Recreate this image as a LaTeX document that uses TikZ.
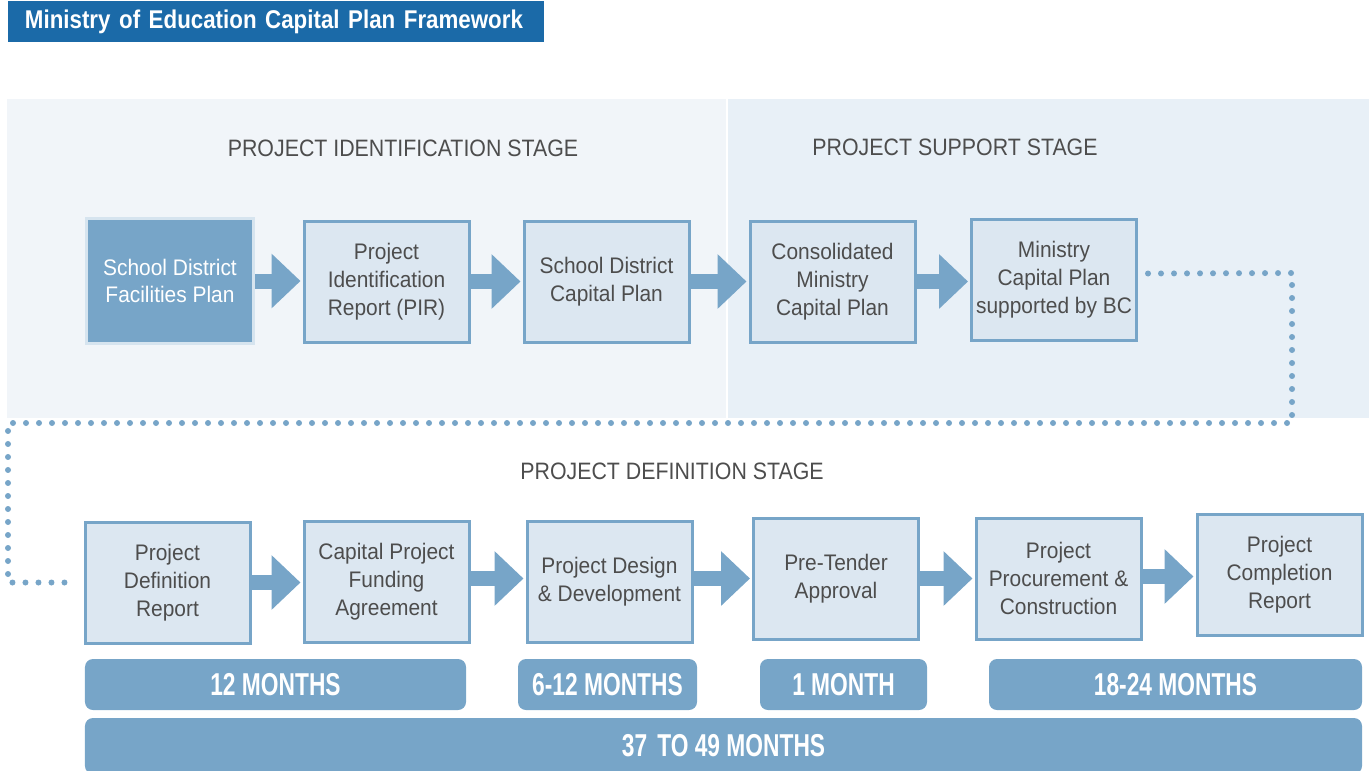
\documentclass[tikz,border=0pt]{standalone}
\usepackage{fontspec}
\setmainfont{Liberation Sans}[FakeStretch=0.93]
\newfontfamily\stagefont{Liberation Sans}[FakeStretch=0.9]
\newfontfamily\headfont{Liberation Sans}[FakeStretch=0.87]
\newfontfamily\barfont{Liberation Sans}[FakeStretch=0.72]
\usetikzlibrary{arrows.meta, positioning}
\definecolor{edublue}{HTML}{1B6AA8}
\definecolor{edusteel}{HTML}{77A5C8}
\definecolor{edubox}{HTML}{DCE7F1}
\definecolor{edupanelA}{HTML}{F1F5F9}
\definecolor{edupanelB}{HTML}{E8F0F7}
\definecolor{edurim}{HTML}{D6E4EF}
\definecolor{edutext}{HTML}{4D4D4D}

\begin{document}
\begin{tikzpicture}[
        x=0.2mm, y=-0.2mm,
        every node/.style={align=center},
        titlebar/.style={rectangle, fill=edublue, text=white, text width=10.04cm,
                         align=left, inner xsep=0.34cm, minimum height=0.82cm,
                         font=\headfont\bfseries\fontsize{14.6}{17}\selectfont},
        stage/.style={text=edutext, font=\stagefont\fontsize{13.5}{16}\selectfont},
        stepbox/.style={rectangle, draw=edusteel, line width=0.06cm, fill=edubox,
                        text=edutext, minimum width=3.3cm, minimum height=2.42cm,
                        inner sep=0pt, font=\fontsize{12.8}{15.8}\selectfont},
        startbox/.style={stepbox, draw=edurim, fill=edusteel, text=white,
                         minimum width=3.34cm, minimum height=2.5cm},
        flow/.style={draw=edusteel, line width=0.3cm, shorten >=0.04cm,
                     -{Triangle[width=1.06cm, length=0.58cm]}},
        dotline/.style={draw=edusteel, line width=0.12cm, line cap=round,
                        dash pattern=on 0pt off 0.26cm},
        span/.style={rectangle, rounded corners=0.16cm, fill=edusteel, text=white,
                     minimum height=1.02cm, inner sep=0pt,
                     font=\barfont\bfseries\fontsize{18}{20}\selectfont}
    ]
    \useasboundingbox (0,0) rectangle (1369,770);

    % backgrounds
    \fill[edupanelA] (7,99) rectangle (726,418);
    \fill[edupanelB] (728,99) rectangle (1369,418);

    \node[titlebar] (title) at (276,21.5) {Ministry of Education Capital Plan Framework};

    \node[stage] (idstage) at (403,148) {PROJECT IDENTIFICATION STAGE};
    \node[stage] (supstage) at (955,147) {PROJECT SUPPORT STAGE};
    \node[stage] (defstage) at (672,471) {PROJECT DEFINITION STAGE};

    % top row
    \node[startbox] (sdfp) at (170,281) {School District\\Facilities Plan};
    \node[stepbox] (pir) at (386.5,281.5) {Project\\Identification\\Report (PIR)};
    \node[stepbox] (sdcp) at (606.5,281.5) {School District\\Capital Plan};
    \node[stepbox] (ccp) at (832.5,281.5) {Consolidated\\Ministry\\Capital Plan};
    \node[stepbox] (mcp) at (1054,279.5) {Ministry\\Capital Plan\\supported by BC};

    \draw[flow] (sdfp.east) -- (sdfp.east -| pir.west);
    \draw[flow] (pir.east) -- (pir.east -| sdcp.west);
    \draw[flow] (sdcp.east) -- (sdcp.east -| ccp.west);
    \draw[flow] (ccp.east) -- (ccp.east -| mcp.west);

    % bottom row
    \node[stepbox] (pdr) at (167.5,582.5) {Project\\Definition\\Report};
    \node[stepbox] (cpfa) at (386.5,581.5) {Capital Project\\Funding\\Agreement};
    \node[stepbox] (pdd) at (609.5,581.5) {Project Design\\\& Development};
    \node[stepbox] (pta) at (836,578.5) {Pre-Tender\\Approval};
    \node[stepbox] (ppc) at (1058.5,578.5) {Project\\Procurement \&\\Construction};
    \node[stepbox] (pcr) at (1279.5,574.5) {Project\\Completion\\Report};

    \draw[flow] (pdr.east) -- (pdr.east -| cpfa.west);
    \draw[flow] ([yshift=0.06cm]cpfa.east) -- ([yshift=0.06cm]cpfa.east -| pdd.west);
    \draw[flow] ([yshift=0.06cm]pdd.east) -- ([yshift=0.06cm]pdd.east -| pta.west);
    \draw[flow] (pta.east) -- (pta.east -| ppc.west);
    \draw[flow] ([yshift=0.04cm]ppc.east) -- ([yshift=0.04cm]ppc.east -| pcr.west);

    % dotted link between the two rows
    \coordinate (dotstart) at ([xshift=0.2cm, yshift=0.12cm]mcp.east);
    \coordinate (loopNE) at (1292,273);
    \coordinate (loopSE) at (1292,423);
    \coordinate (loopSW) at (8,423);
    \coordinate (dotend) at ([xshift=-0.14cm]pdr.west);
    \draw[dotline] (dotstart) -- (loopNE) -- (loopSE) -- (loopSW) |- (dotend);

    % durations
    \node[span, minimum width=7.62cm] (m12) at (275.5,684.5) {12 MONTHS};
    \node[span, minimum width=3.58cm] (m6) at (607.5,684.5) {6-12 MONTHS};
    \node[span, minimum width=3.34cm] (m1) at (843.5,684.5) {1 MONTH};
    \node[span, minimum width=7.46cm] (m18) at (1175.5,684.5) {18-24 MONTHS};
    \node[span, minimum width=25.54cm, minimum height=1.12cm] (mall) at (723.5,746) {37\hspace{0.12em} TO 49 MONTHS};
\end{tikzpicture}
\end{document}
